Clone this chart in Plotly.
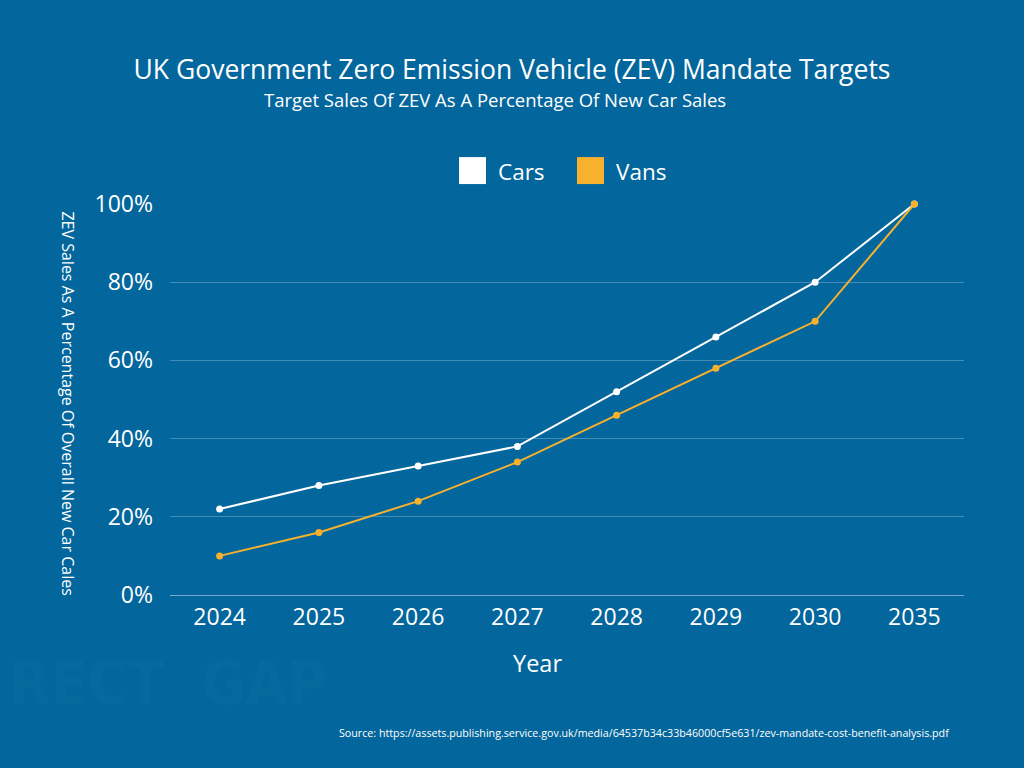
import plotly.graph_objects as go

# Chart data
years = ['2024', '2025', '2026', '2027', '2028', '2029', '2030', '2035']
cars_pct = [22, 28, 33, 38, 52, 66, 80, 100]
vans_pct = [10, 16, 24, 34, 46, 58, 70, 100]
y_ticks = [0, 20, 40, 60, 80, 100]
y_tick_labels = ['0%', '20%', '40%', '60%', '80%', '100%']

# Colours
bg_colour = '#03669c'
car_colour = '#ffffff'
van_colour = '#f8b12c'
grid_colour = 'rgba(255,255,255,0.25)'

fig = go.Figure()
fig.add_trace(go.Scatter(x=years, y=cars_pct, name='Cars', mode='lines+markers',
                         line=dict(color=car_colour, width=2),
                         marker=dict(color=car_colour, size=7),
                         cliponaxis=False, showlegend=False))
fig.add_trace(go.Scatter(x=years, y=vans_pct, name='Vans', mode='lines+markers',
                         line=dict(color=van_colour, width=2),
                         marker=dict(color=van_colour, size=7),
                         cliponaxis=False, showlegend=False))

# Legend drawn by hand so the swatches are large squares
shapes = [
    dict(type='rect', xref='paper', yref='paper', x0=0.364, x1=0.398, y0=1.051, y1=1.120,
         fillcolor=car_colour, line=dict(width=0)),
    dict(type='rect', xref='paper', yref='paper', x0=0.5126, x1=0.5466, y0=1.051, y1=1.120,
         fillcolor=van_colour, line=dict(width=0)),
]

annotations = [
    # Faint logo watermark
    dict(text='<b>RECT  GAP</b>', x=-0.205, y=-0.225, xref='paper', yref='paper',
         xanchor='left', yanchor='middle', showarrow=False,
         font=dict(size=60, color='rgba(255,255,255,0.025)',
                   family='DejaVu Sans Condensed, Liberation Sans')),
    # Legend labels
    dict(text='Cars', x=0.411, y=1.084, xref='paper', yref='paper',
         xanchor='left', yanchor='middle', showarrow=False, font=dict(size=22.5)),
    dict(text='Vans', x=0.5595, y=1.084, xref='paper', yref='paper',
         xanchor='left', yanchor='middle', showarrow=False, font=dict(size=22.5)),
    # Subtitle
    dict(text='Target Sales Of ZEV As A Percentage Of New Car Sales', x=0.4087, y=1.266,
         xref='paper', yref='paper', xanchor='center', yanchor='middle',
         showarrow=False, font=dict(size=18.5)),
    # Axis titles
    dict(text='ZEV Sales As A Percentage Of Overall New Car Cales', x=-0.129, y=0.491,
         xref='paper', yref='paper', xanchor='center', yanchor='middle',
         showarrow=False, textangle=90, font=dict(size=16)),
    dict(text='Year', x=0.463, y=-0.174, xref='paper', yref='paper',
         xanchor='center', yanchor='middle', showarrow=False, font=dict(size=23.5)),
    # Source
    dict(text='Source: https://assets.publishing.service.gov.uk/media/64537b34c33b46000cf5e631/zev-mandate-cost-benefit-analysis.pdf',
         x=0.985, y=-0.353, xref='paper', yref='paper', xanchor='right', yanchor='middle',
         showarrow=False, font=dict(size=10.7)),
]

fig.update_layout(
    width=1024,
    height=768,
    paper_bgcolor=bg_colour,
    plot_bgcolor=bg_colour,
    font=dict(family='Open Sans', color='white'),
    title=dict(text='UK Government Zero Emission Vehicle (ZEV) Mandate Targets',
               x=0.5, xanchor='center', y=0.909, yanchor='middle',
               font=dict(size=26.5, color='white')),
    margin=dict(l=170, r=60, t=204, b=173),
    xaxis=dict(type='category', range=[-0.5, 7.5], showgrid=False,
               showline=True, linecolor='rgba(255,255,255,0.45)', linewidth=1,
               ticks='', tickfont=dict(size=23), ticklabelstandoff=1,
               fixedrange=True),
    yaxis=dict(range=[0, 100], tickvals=y_ticks, ticktext=y_tick_labels,
               showgrid=True, gridcolor=grid_colour, gridwidth=1,
               zeroline=False, ticks='', ticklen=0, tickfont=dict(size=23),
               ticklabelstandoff=16, fixedrange=True),
    showlegend=False,
    shapes=shapes,
    annotations=annotations,
)

# Remove the page margin so the chart fills the window
fig.write_html('out.html', config={'displayModeBar': False},
               post_script="document.body.style.margin='0';document.body.style.overflow='hidden';")
